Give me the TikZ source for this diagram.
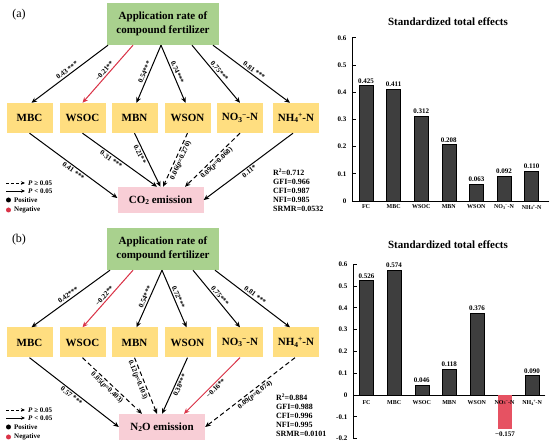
\documentclass[tikz,border=0pt]{standalone}
\usepackage{fontspec}
\setmainfont{Liberation Serif}
\usetikzlibrary{arrows.meta,calc}
\newcommand{\lsub}[1]{\raisebox{-0.3ex}{\scalebox{0.68}{#1}}}
\newcommand{\lsup}[1]{\raisebox{0.75ex}{\scalebox{0.68}{#1}}}
\definecolor{boxgreen}{RGB}{169,209,142}
\definecolor{boxyellow}{RGB}{255,222,128}
\definecolor{boxpink}{RGB}{248,206,214}
\definecolor{negred}{RGB}{218,52,72}
\definecolor{bardark}{RGB}{62,62,62}
\definecolor{barred}{RGB}{230,82,98}
\tikzset{
 topbox/.style={fill=boxgreen, minimum width=112pt, minimum height=42pt, inner sep=0pt, align=center, font=\fontsize{11}{13.5}\selectfont\bfseries},
 midbox/.style={fill=boxyellow, minimum width=46pt, minimum height=30pt, inner sep=0pt, font=\fontsize{11}{12}\selectfont\bfseries},
 outbox/.style={fill=boxpink, minimum width=86pt, minimum height=26pt, inner sep=0pt, font=\fontsize{11}{12}\selectfont\bfseries},
 conn/.style={line width=1pt, -{Stealth[length=5.5pt,width=4.8pt]}},
 sig/.style={conn, draw=black},
 nsig/.style={conn, dash pattern=on 4.5pt off 3pt},
 neg/.style={conn, draw=negred, fill=negred},
 lab/.style={sloped, font=\fontsize{7.2}{8}\selectfont\bfseries, inner sep=1.5pt},
 legtext/.style={anchor=west, inner sep=0pt, font=\fontsize{7}{8}\selectfont\bfseries},
 legdot/.style={circle, minimum size=5pt, inner sep=0pt},
 stats/.style={align=left, anchor=north west, inner sep=0pt, font=\fontsize{8}{9}\selectfont\bfseries},
 paneltag/.style={inner sep=0pt, font=\fontsize{12}{12}\selectfont},
 charttitle/.style={inner sep=0pt, font=\fontsize{11}{12}\selectfont\bfseries},
 ticklab/.style={anchor=east, inner sep=0pt, font=\fontsize{7}{8}\selectfont\bfseries},
 catlab/.style={anchor=north, inner sep=0pt, font=\fontsize{6}{7}\selectfont\bfseries},
 vallab/.style={inner sep=0pt, font=\fontsize{7}{8}\selectfont\bfseries},
 axisline/.style={line width=0.9pt, line cap=rect},
 darkbar/.style={fill=bardark, draw=black, line width=0.4pt},
 redbar/.style={fill=barred, draw=none},
}
\begin{document}
\begin{tikzpicture}[x=1pt,y=-1pt]
\useasboundingbox (0,0) rectangle (550,446);
\fill[white] (0,0) rectangle (550,446);
% ================= Panel (a) =================
\node[paneltag] (taga) at (19,15) {(a)};
\node[topbox] (fa) at (163,24) {Application rate of\\compound fertilizer};
\node[midbox] (mbca) at (29.5,118) {MBC};
\node[midbox] (wsoca) at (82.5,118) {WSOC};
\node[midbox] (mbna) at (134.5,118) {MBN};
\node[midbox] (wsona) at (187.5,118) {WSON};
\node[midbox] (no3a) at (240,118) {NO\lsub{3}\lsup{−}-N};
\node[midbox] (nh4a) at (296,118) {NH\lsub{4}\lsup{+}-N};
\node[outbox] (co2) at (160.5,200) {CO\lsub{2} emission};
% top arrows
\draw[sig] ([xshift=-55pt]fa.south) -- node[lab,above]{0.43 ***} ([xshift=2pt]mbca.north);
\draw[neg] ([xshift=-30pt]fa.south) -- node[lab,above]{−0.21**} (wsoca.north);
\draw[sig] ([xshift=-2pt]fa.south) -- node[lab,above]{0.54***} ([xshift=2pt]mbna.north);
\draw[sig] ([xshift=-2pt]fa.south) -- node[lab,above]{0.74***} ([xshift=-2pt]wsona.north);
\draw[sig] ([xshift=29pt]fa.south) -- node[lab,above]{0.75***} (no3a.north);
\draw[sig] ([xshift=50pt]fa.south) -- node[lab,above]{0.81 ***} ([xshift=-6pt]nh4a.north);
% lower arrows
\draw[sig] (mbca.south) -- node[lab,below,pos=0.53]{0.41 ***} ([yshift=2pt]co2.west);
\draw[sig] (wsoca.south) -- node[lab,below,pos=0.42]{0.31 ***} ([xshift=-3.5pt]co2.north);
\draw[sig] (mbna.south) -- node[lab,below,pos=0.36]{0.21**} (co2.north);
\draw[nsig] (wsona.south) -- node[lab,below,pos=0.47]{0.06(\textit{p}=0.270)} ([xshift=2.5pt]co2.north);
\draw[nsig] (no3a.south) -- node[lab,below,pos=0.49]{0.09(\textit{p}=0.068)} ([xshift=24.5pt]co2.north);
\draw[sig] ([xshift=-3pt]nh4a.south) -- node[lab,below,pos=0.52]{0.11*} (co2.east);
% legend
\coordinate (la1) at (6,183); \coordinate (la2) at (25,183);
\coordinate (la3) at (6,191); \coordinate (la4) at (25,191);
\draw[conn, line width=0.8pt, dash pattern=on 3pt off 2pt, -{Stealth[length=4pt,width=3.5pt]}] (la1) -- (la2);
\draw[conn, line width=0.8pt, -{Stealth[length=4pt,width=3.5pt]}] (la3) -- (la4);
\node[legtext] (lta1) at (28,183) {\textit{P} ≥ 0.05};
\node[legtext] (lta2) at (28,191) {\textit{P} < 0.05};
\node[legdot, fill=black] (lda1) at (8.5,200) {};
\node[legtext] (lta3) at (14,200) {Positive};
\node[legdot, fill=negred] (lda2) at (8.5,210) {};
\node[legtext] (lta4) at (14,210) {Negative};
\node[stats] (sta) at (273,168.5) {R\lsup{2}=0.712\\GFI=0.966\\CFI=0.987\\NFI=0.985\\SRMR=0.0532};
% chart (a)
\node[charttitle] (tta) at (448,22) {Standardized total effects};
\draw[axisline] (352,37.8) -- (352,201) -- (549,201);
\foreach \v/\t [count=\k] in {0/0,0.1/0.1,0.2/0.2,0.3/0.3,0.4/0.4,0.5/0.5,0.6/0.6}{
  \pgfmathsetmacro\yy{201-272*\v}
  \draw[axisline] (352,\yy) -- (355.5,\yy);
  \node[ticklab] (yta\k) at (346.5,\yy) {\t};
}
\foreach \v [count=\k] in {0.425,0.411,0.312,0.208,0.063,0.092,0.110}{
  \pgfmathsetmacro\xc{366+27.6*(\k-1)}
  \pgfmathsetmacro\yt{201-272*\v}
  \filldraw[darkbar] (\xc-7,201) rectangle (\xc+7,\yt);
  \node[vallab, anchor=south] (vla\k) at (\xc,\yt-2) {\v};
}
\foreach \c [count=\k] in {FC,MBC,WSOC,MBN,WSON,{NO\lsub{3}\lsup{−}-N},{NH\lsub{4}\lsup{+}-N}}{
  \pgfmathsetmacro\xc{366+27.6*(\k-1)}
  \node[catlab] (cla\k) at (\xc,204.5) {\c};
}
% ================= Panel (b) =================
\node[paneltag] (tagb) at (19,240) {(b)};
\node[topbox] (fb) at (163,249) {Application rate of\\compound fertilizer};
\node[midbox] (mbcb) at (29.5,342.5) {MBC};
\node[midbox] (wsocb) at (82.5,342.5) {WSOC};
\node[midbox] (mbnb) at (134.5,342.5) {MBN};
\node[midbox] (wsonb) at (187.5,342.5) {WSON};
\node[midbox] (no3b) at (240,342.5) {NO\lsub{3}\lsup{−}-N};
\node[midbox] (nh4b) at (296,342.5) {NH\lsub{4}\lsup{+}-N};
\node[outbox] (n2o) at (162,427) {N\lsub{2}O emission};
% top arrows
\draw[sig] ([xshift=-53pt]fb.south) -- node[lab,above]{0.42***} ([xshift=2pt]mbcb.north);
\draw[neg] ([xshift=-30pt]fb.south) -- node[lab,above]{−0.22**} (wsocb.north);
\draw[sig] ([xshift=-1pt]fb.south) -- node[lab,above]{0.54***} ([xshift=2pt]mbnb.north);
\draw[sig] ([xshift=-1pt]fb.south) -- node[lab,above]{0.72***} ([xshift=-1pt]wsonb.north);
\draw[sig] ([xshift=30pt]fb.south) -- node[lab,above]{0.75***} (no3b.north);
\draw[sig] ([xshift=52pt]fb.south) -- node[lab,above]{0.81 ***} ([xshift=-6pt]nh4b.north);
% lower arrows
\draw[sig] (mbcb.south) -- node[lab,below,pos=0.5]{0.57 ***} (n2o.west);
\draw[nsig] (wsocb.south) -- node[lab,below,pos=0.47]{0.05(\textit{p}=0.403)} ([xshift=-20pt]n2o.north);
\draw[nsig] (mbnb.south) -- node[lab,below,pos=0.36]{0.12(\textit{p}=0.103)} ([xshift=-5pt]n2o.north);
\draw[sig] (wsonb.south) -- node[lab,below,pos=0.46]{0.38***} (n2o.north);
\draw[neg] (no3b.south) -- node[lab,below,pos=0.49]{−0.16**} ([xshift=22pt]n2o.north);
\draw[nsig] ([xshift=-1pt]nh4b.south) -- node[lab,below,pos=0.48]{0.09(\textit{p}=0.074)} (n2o.east);
% legend
\coordinate (lb1) at (6,410); \coordinate (lb2) at (25,410);
\coordinate (lb3) at (6,418); \coordinate (lb4) at (25,418);
\draw[conn, line width=0.8pt, dash pattern=on 3pt off 2pt, -{Stealth[length=4pt,width=3.5pt]}] (lb1) -- (lb2);
\draw[conn, line width=0.8pt, -{Stealth[length=4pt,width=3.5pt]}] (lb3) -- (lb4);
\node[legtext] (ltb1) at (28,410) {\textit{P} ≥ 0.05};
\node[legtext] (ltb2) at (28,418) {\textit{P} < 0.05};
\node[legdot, fill=black] (ldb1) at (8.5,427) {};
\node[legtext] (ltb3) at (14,427) {Positive};
\node[legdot, fill=negred] (ldb2) at (8.5,437) {};
\node[legtext] (ltb4) at (14,437) {Negative};
\node[stats] (stb) at (276,393.5) {R\lsup{2}=0.884\\GFI=0.988\\CFI=0.996\\NFI=0.995\\SRMR=0.0101};
% chart (b)
\node[charttitle] (ttb) at (448,245) {Standardized total effects};
\draw[axisline] (353,264.2) -- (353,438.6);
\draw[axisline] (353,395) -- (545,395);
\foreach \v/\t [count=\k] in {-0.2/-0.2,-0.1/-0.1,0/0,0.1/0.1,0.2/0.2,0.3/0.3,0.4/0.4,0.5/0.5,0.6/0.6}{
  \pgfmathsetmacro\yy{395-218*\v}
  \draw[axisline] (353,\yy) -- (356.5,\yy);
  \node[ticklab] (ytb\k) at (347.5,\yy) {\t};
}
\foreach \v/\i [count=\k] in {0.526/0,0.574/1,0.046/2,0.118/3,0.376/4,0.090/6}{
  \pgfmathsetmacro\xc{366.5+27.6*\i}
  \pgfmathsetmacro\yt{395-218*\v}
  \filldraw[darkbar] (\xc-7,395) rectangle (\xc+7,\yt);
  \node[vallab, anchor=south] (vlb\k) at (\xc,\yt-2) {\v};
}
\fill[redbar] (498.1,395) rectangle (512.1,429.2);
\node[vallab, anchor=north] (vlbneg) at (505.1,432) {−0.157};
\foreach \c [count=\k] in {FC,MBC,WSOC,MBN,WSON,{NO\lsub{3}\lsup{−}-N},{NH\lsub{4}\lsup{+}-N}}{
  \pgfmathsetmacro\xc{366.5+27.6*(\k-1)}
  \node[catlab] (clb\k) at (\xc,400) {\c};
}
\end{tikzpicture}
\end{document}
